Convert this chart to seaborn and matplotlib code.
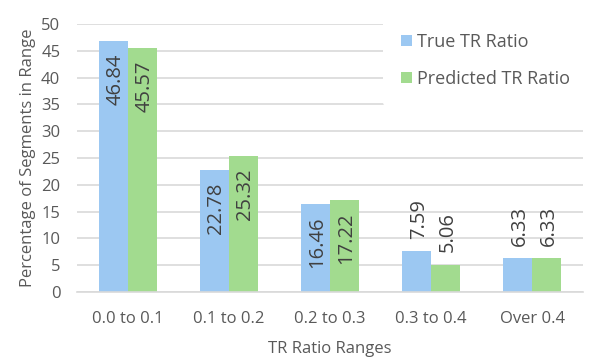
#!/usr/bin/env python3
'''
Grouped bar chart: share of segments per TR ratio range,
true vs predicted.
'''
import matplotlib
matplotlib.use('Agg')
import matplotlib.pyplot as plt
from matplotlib.patches import Patch
import seaborn as sns
import pandas as pd

# data
ranges = ['0.0 to 0.1', '0.1 to 0.2', '0.2 to 0.3', '0.3 to 0.4', 'Over 0.4']
true_ratio = [46.84, 22.78, 16.46, 7.59, 6.33]
predicted_ratio = [45.57, 25.32, 17.22, 5.06, 6.33]
series = ['True TR Ratio', 'Predicted TR Ratio']
colors = ['#9CC8F2', '#A2DB8F']

sns.set_theme(style='white')
plt.rcParams['font.family'] = ['Open Sans', 'DejaVu Sans']

df = pd.DataFrame({
    'range': ranges * 2,
    'value': true_ratio + predicted_ratio,
    'series': [series[0]] * len(ranges) + [series[1]] * len(ranges),
})

fig = plt.figure(figsize=(5.98, 3.62), dpi=100)
ax = fig.add_axes([77 / 598, 70 / 362, 506 / 598, 268 / 362])

sns.barplot(data=df, x='range', y='value', hue='series', order=ranges,
            hue_order=series, palette=colors, width=0.575, saturation=1,
            linewidth=0, legend=False, ax=ax)

ax.set_ylim(0, 50)
ax.set_yticks(range(0, 51, 5))
ax.grid(axis='y', color='#D9D9D9', linewidth=1.2)
ax.set_axisbelow(True)
for side in ['top', 'right', 'left']:
    ax.spines[side].set_visible(False)
ax.spines['bottom'].set_color('#D9D9D9')
ax.spines['bottom'].set_linewidth(1.2)
ax.tick_params(axis='both', length=0, labelsize=12, colors='#595959')
ax.tick_params(axis='y', pad=12)
ax.tick_params(axis='x', pad=14)
ax.set_xlabel('TR Ratio Ranges', fontsize=12, color='#595959', labelpad=10)
ax.set_ylabel('Percentage of Segments in Range', fontsize=12,
              color='#595959', labelpad=4)

# value labels: inside the bar end when it fits, above it otherwise
for container in ax.containers:
    for bar in container:
        h = bar.get_height()
        x = bar.get_x() + bar.get_width() / 2
        inside = h > 10
        ax.annotate(f'{h:.2f}', xy=(x, h),
                    xytext=(1.5, -9 if inside else 9),
                    textcoords='offset points', rotation=90,
                    ha='center', va='top' if inside else 'bottom',
                    fontsize=14.5, color='#404040')

handles = [Patch(facecolor=c, edgecolor='none') for c in colors]
leg = ax.legend(handles, series, loc='upper left',
                bbox_to_anchor=(383 / 598, 1 - 15 / 362),
                bbox_transform=fig.transFigure,
                fontsize=13, frameon=True, framealpha=1,
                facecolor='white', edgecolor='none',
                handlelength=0.6, handleheight=0.6, handletextpad=0.3,
                labelspacing=1.05, borderpad=1.0, borderaxespad=0)
for t in leg.get_texts():
    t.set_color('#595959')

fig.savefig('out.png', dpi=100)
